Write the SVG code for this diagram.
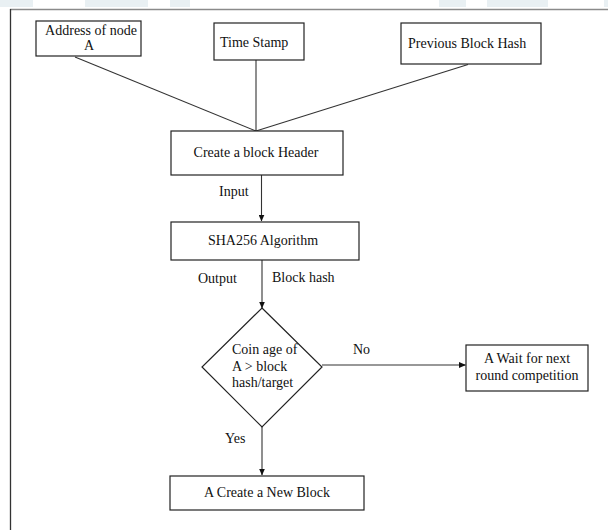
<svg xmlns="http://www.w3.org/2000/svg" width="608" height="530" viewBox="0 0 608 530">
<defs>
<marker id="arr" markerWidth="7" markerHeight="6" refX="6.5" refY="3" orient="auto" markerUnits="userSpaceOnUse">
<path d="M0,0 L7,3 L0,6 Z" fill="#111"/>
</marker>
<style>
.box{fill:#fff;stroke:#222;stroke-width:1.2}
.t{font-family:"Liberation Serif","Times New Roman",serif;font-size:14px;fill:#111}
.c{text-anchor:middle}
.ln{stroke:#333;stroke-width:1.1;fill:none}
.wm{fill:#e9f0f3}
</style>
</defs>
<rect width="608" height="530" fill="#fff"/>
<g id="watermark">
<rect class="wm" x="0" y="0" width="33" height="7"/>
<rect class="wm" x="85" y="0" width="63" height="7"/>
<rect class="wm" x="170" y="0" width="20" height="7"/>
<rect class="wm" x="439" y="0" width="27" height="7"/>
<rect class="wm" x="487" y="0" width="61" height="7"/>
<rect class="wm" x="604" y="0" width="4" height="7"/>
</g>
<g id="frame">
<line x1="10" y1="9.5" x2="608" y2="9.5" stroke="#8a8a8a" stroke-width="1.5"/>
<line x1="10.5" y1="9" x2="10.5" y2="530" stroke="#333" stroke-width="1.3"/>
</g>
<g id="connectors">
<line class="ln" x1="75" y1="57" x2="256" y2="131"/>
<line class="ln" x1="256" y1="60" x2="256" y2="131"/>
<line class="ln" x1="468" y1="64.5" x2="256" y2="131"/>
<line class="ln" x1="261.5" y1="175" x2="261.5" y2="221" marker-end="url(#arr)"/>
<line class="ln" x1="262" y1="260" x2="262" y2="308" marker-end="url(#arr)"/>
<line class="ln" x1="322" y1="365" x2="465.5" y2="365" marker-end="url(#arr)"/>
<line class="ln" x1="262" y1="427" x2="262" y2="475" marker-end="url(#arr)"/>
<text class="t" x="219" y="196">Input</text>
<text class="t" x="198" y="283">Output</text>
<text class="t" x="272" y="282">Block hash</text>
<text class="t" x="353" y="354">No</text>
<text class="t" x="225" y="443">Yes</text>
</g>
<g id="node-address">
<rect class="box" x="36" y="21" width="105" height="35"/>
<text class="t c" x="91" y="35">Address of node</text>
<text class="t c" x="89" y="50">A</text>
</g>
<g id="node-timestamp">
<rect class="box" x="214" y="23" width="90" height="37"/>
<text class="t" x="220" y="47">Time Stamp</text>
</g>
<g id="node-prevhash">
<rect class="box" x="401" y="23" width="140" height="41"/>
<text class="t" x="408" y="48">Previous Block Hash</text>
</g>
<g id="node-header">
<rect class="box" x="171" y="131" width="172" height="44"/>
<text class="t c" x="256" y="157">Create a block Header</text>
</g>
<g id="node-sha">
<rect class="box" x="171" y="222" width="188" height="38"/>
<text class="t c" x="263" y="245">SHA256 Algorithm</text>
</g>
<g id="node-decision">
<polygon class="box" points="262,308 322,367 262,427 202,367"/>
<text class="t" x="232" y="354">Coin age of</text>
<text class="t" x="232" y="371">A &gt; block</text>
<text class="t" x="232" y="387">hash/target</text>
</g>
<g id="node-wait">
<rect class="box" x="466" y="345" width="122" height="46"/>
<text class="t c" x="527" y="363">A Wait for next</text>
<text class="t c" x="527" y="380">round competition</text>
</g>
<g id="node-newblock">
<rect class="box" x="170" y="476" width="194" height="34"/>
<text class="t c" x="267" y="497">A Create a New Block</text>
</g>
</svg>
